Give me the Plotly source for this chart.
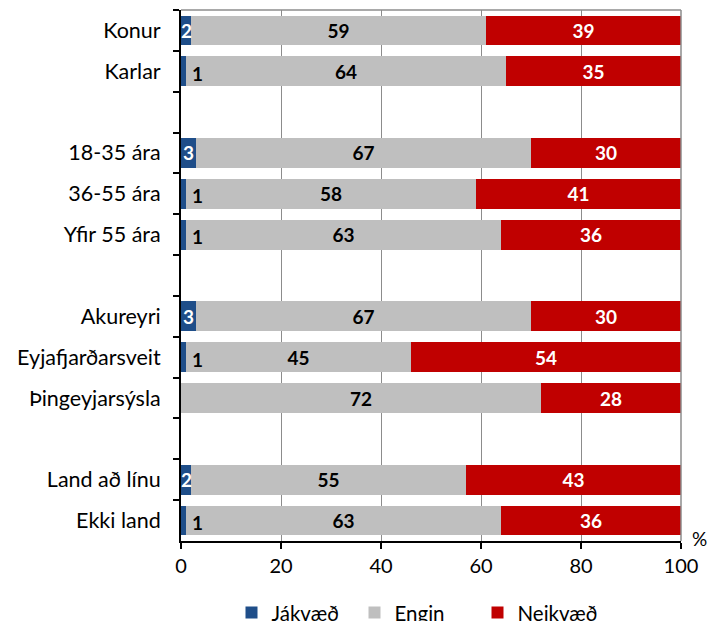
import plotly.graph_objects as go

categories = ["Konur", "Karlar", "18-35 ára", "36-55 ára", "Yfir 55 ára",
              "Akureyri", "Eyjafjarðarsveit", "Þingeyjarsýsla",
              "Land að línu", "Ekki land"]
groups = [2, 3, 3, 2]  # rows per group
jakvaed = [2, 1, 3, 1, 1, 3, 1, 0, 2, 1]
engin = [59, 64, 67, 58, 63, 67, 45, 72, 55, 63]
neikvaed = [39, 35, 30, 41, 36, 30, 54, 28, 43, 36]
series_names = ["Jákvæð", "Engin", "Neikvæð"]
x_ticks = [0, 20, 40, 60, 80, 100]

colors = ["#1F4E89", "#BFBFBF", "#C00000"]
FONT = "Lato"
LBL = 19
TXT = 21.5

# category order with blank spacer slots between groups
order = []
idx = 0
for gi, n in enumerate(groups):
    order.extend(categories[idx:idx + n])
    idx += n
    if gi < len(groups) - 1:
        order.append(" " * (gi + 1))

fig = go.Figure()
fig.add_trace(go.Bar(y=categories, x=jakvaed, name=series_names[0], orientation="h",
                     marker=dict(color=colors[0], line=dict(width=0)), hoverinfo="x+y"))
fig.add_trace(go.Bar(y=categories, x=engin, name=series_names[1], orientation="h",
                     marker=dict(color=colors[1], line=dict(width=0)),
                     text=[str(v) for v in engin], textposition="inside",
                     insidetextanchor="middle", textangle=0,
                     textfont=dict(family=FONT, size=LBL, color="black", weight="bold")))
fig.add_trace(go.Bar(y=categories, x=neikvaed, name=series_names[2], orientation="h",
                     marker=dict(color=colors[2], line=dict(width=0)),
                     text=[str(v) for v in neikvaed], textposition="inside",
                     insidetextanchor="middle", textangle=0,
                     textfont=dict(family=FONT, size=LBL, color="white", weight="bold")))

for cat, v in zip(categories, jakvaed):
    if v <= 0:
        continue
    if v >= 2:
        fig.add_annotation(x=v / 2, y=cat, text=str(v), showarrow=False,
                           xanchor="center", font=dict(family=FONT, size=LBL, color="white", weight="bold"))
    else:
        fig.add_annotation(x=v + 0.8, y=cat, text=str(v), showarrow=False,
                           xanchor="left", yshift=-2,
                           font=dict(family=FONT, size=LBL, color="black", weight="bold"))

fig.add_annotation(x=1.0, xref="paper", y=0, yref="paper", text="%", showarrow=False,
                   xanchor="left", yanchor="middle", xshift=9, yshift=3,
                   font=dict(family=FONT, size=19, color="black"))

fig.update_layout(
    barmode="stack",
    bargap=0.27,
    uniformtext=dict(mode=False),
    width=715, height=613,
    margin=dict(l=173, r=42, t=2, b=80, autoexpand=False),
    plot_bgcolor="white", paper_bgcolor="white",
    font=dict(family=FONT, size=TXT, color="black"),
    showlegend=True,
    legend=dict(orientation="h", x=0.47, xanchor="center", y=-0.135, yanchor="middle",
                font=dict(family=FONT, size=20.5), traceorder="normal",
                itemwidth=30, entrywidth=78, entrywidthmode="pixels"),
    xaxis=dict(range=[0, 100], tickvals=x_ticks, showgrid=True, gridcolor="#8C8C8C",
               gridwidth=1, zeroline=False, showline=True, linecolor="black", linewidth=1.5,
               ticks="outside", ticklen=6, tickcolor="black", tickwidth=1.5,
               tickfont=dict(family=FONT, size=20), mirror=False),
    yaxis=dict(type="category", categoryorder="array", categoryarray=order,
               autorange="reversed", tickson="boundaries", ticks="outside", ticklen=6,
               tickcolor="black", tickwidth=1.5, showgrid=False, showline=True,
               linecolor="black", linewidth=2, zeroline=False,
               tickfont=dict(family=FONT, size=TXT), ticklabelstandoff=14),
)
fig.update_traces(constraintext="none", selector=dict(type="bar"))
# gray top/right border of plot area
fig.add_shape(type="line", xref="paper", yref="paper", x0=0, x1=1, y0=1, y1=1,
              line=dict(color="#8C8C8C", width=1.5))
fig.add_shape(type="line", xref="paper", yref="paper", x0=1, x1=1, y0=0, y1=1,
              line=dict(color="#8C8C8C", width=1.5))

fig.write_html("out.html")
